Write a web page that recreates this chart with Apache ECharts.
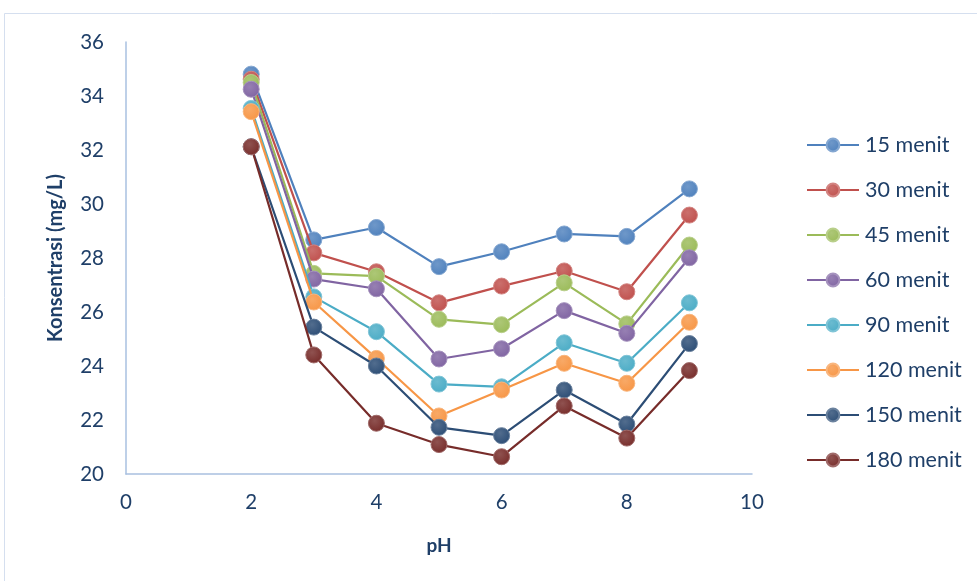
<!DOCTYPE html>
<html>
<head>
<meta charset="utf-8">
<title>Konsentrasi vs pH</title>
<script src="https://cdn.jsdelivr.net/npm/echarts@6/dist/echarts.min.js"></script>
<style>
  html, body { margin: 0; padding: 0; background: #ffffff; }
  #chart { width: 977px; height: 581px; }
</style>
</head>
<body>
<div id="chart"></div>
<script>
// pH values measured
const phValues = [2, 3, 4, 5, 6, 7, 8, 9];

// Concentration (mg/L) per contact time
const seriesNames = ['15 menit', '30 menit', '45 menit', '60 menit', '90 menit', '120 menit', '150 menit', '180 menit'];
const c15  = [34.81, 28.67, 29.13, 27.68, 28.23, 28.89, 28.80, 30.56];
const c30  = [34.62, 28.19, 27.49, 26.34, 26.96, 27.52, 26.75, 29.59];
const c45  = [34.50, 27.43, 27.33, 25.73, 25.53, 27.08, 25.56, 28.48];
const c60  = [34.25, 27.22, 26.86, 24.26, 24.64, 26.05, 25.21, 28.01];
const c90  = [33.54, 26.56, 25.27, 23.33, 23.23, 24.86, 24.10, 26.34];
const c120 = [33.42, 26.37, 24.28, 22.15, 23.11, 24.10, 23.36, 25.62];
const c150 = [32.12, 25.44, 24.00, 21.73, 21.42, 23.11, 21.85, 24.83];
const c180 = [32.12, 24.41, 21.88, 21.09, 20.64, 22.52, 21.33, 23.83];

const seriesValues = [c15, c30, c45, c60, c90, c120, c150, c180];

// Axis ticks
const xTicks = [0, 2, 4, 6, 8, 10];
const yTicks = [20, 22, 24, 26, 28, 30, 32, 34, 36];

const palette = ['#4F81BD', '#C0504D', '#9BBB59', '#8064A2', '#4BACC6', '#F79646', '#2C4D75', '#772C2A'];
const textColor = '#1F3F68';
const axisColor = '#A9C0E0';
const fontFamily = 'Lato, "Open Sans", "Noto Sans", sans-serif';

function lighten(hex, amt) {
  const n = parseInt(hex.slice(1), 16);
  let r = (n >> 16) & 255, g = (n >> 8) & 255, b = n & 255;
  r = Math.round(r + (255 - r) * amt);
  g = Math.round(g + (255 - g) * amt);
  b = Math.round(b + (255 - b) * amt);
  return 'rgb(' + r + ',' + g + ',' + b + ')';
}

const series = seriesNames.map((name, i) => ({
  name: name,
  type: 'line',
  data: phValues.map((ph, j) => [ph, seriesValues[i][j]]),
  symbol: 'circle',
  symbolSize: 16,
  lineStyle: { width: 2.2, color: palette[i] },
  itemStyle: {
    color: {
      type: 'radial', x: 0.4, y: 0.35, r: 0.7,
      colorStops: [
        { offset: 0, color: lighten(palette[i], 0.18) },
        { offset: 1, color: palette[i] }
      ]
    },
    borderColor: lighten(palette[i], 0.3),
    borderWidth: 1
  },
  emphasis: { disabled: true },
  z: 2 + i
}));

const chart = echarts.init(document.getElementById('chart'), null, { renderer: 'canvas' });
chart.setOption({
  backgroundColor: '#ffffff',
  animation: false,
  graphic: [{
    type: 'rect',
    shape: { x: 4.5, y: 13.5, width: 1000, height: 600 },
    style: { fill: 'none', stroke: '#D5DFEF', lineWidth: 1 },
    silent: true
  }],
  grid: { left: 126, right: 225, top: 42, bottom: 107, containLabel: false },
  legend: {
    orient: 'vertical',
    left: 806,
    top: 134,
    padding: 0,
    itemWidth: 52,
    itemHeight: 16,
    itemGap: 23,
    textStyle: { color: textColor, fontSize: 21.5, fontFamily: fontFamily, padding: [0, 0, 0, 1] },
    data: seriesNames
  },
  xAxis: {
    type: 'value',
    min: xTicks[0],
    max: xTicks[xTicks.length - 1],
    interval: 2,
    name: 'pH',
    nameLocation: 'middle',
    nameGap: 62,
    nameTextStyle: { color: textColor, fontSize: 19, fontWeight: 'bold', fontFamily: fontFamily },
    axisLine: { show: true, onZero: false, lineStyle: { color: axisColor, width: 1.5 } },
    axisTick: { show: false },
    splitLine: { show: false },
    axisLabel: { color: textColor, fontSize: 20.5, fontFamily: fontFamily, margin: 18 }
  },
  yAxis: {
    type: 'value',
    min: yTicks[0],
    max: yTicks[yTicks.length - 1],
    interval: 2,
    name: 'Konsentrasi (mg/L)',
    nameLocation: 'middle',
    nameGap: 60,
    nameRotate: 90,
    nameTextStyle: { color: textColor, fontSize: 20, fontWeight: 'bold', fontFamily: fontFamily },
    axisLine: { show: true, onZero: false, lineStyle: { color: axisColor, width: 1.5 } },
    axisTick: { show: false },
    splitLine: { show: false },
    axisLabel: { color: textColor, fontSize: 20.5, fontFamily: fontFamily, margin: 22 }
  },
  series: series
});
</script>
</body>
</html>
